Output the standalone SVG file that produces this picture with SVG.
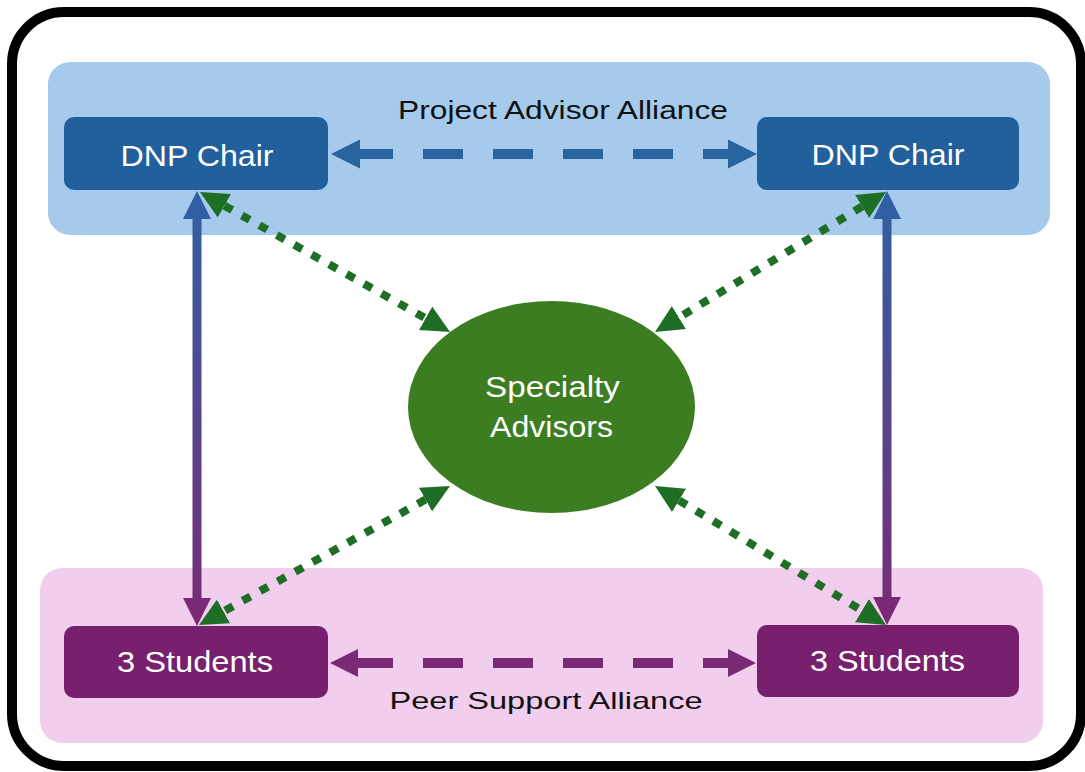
<svg xmlns="http://www.w3.org/2000/svg" width="1085" height="772" viewBox="0 0 1085 772">
  <style>
    .lbl { font-family: "Liberation Sans", Arial, sans-serif; fill: #ffffff; text-anchor: middle; }
    .band { font-family: "Liberation Sans", Arial, sans-serif; fill: #111111; text-anchor: middle; }
    .chair { fill: #21609C; }
    .stud { fill: #78206E; }
    .dot { fill: none; stroke: #1E6E25; stroke-width: 8; stroke-dasharray: 9 11; }
  </style>
  <defs>
    <marker id="hBlue" markerUnits="userSpaceOnUse" markerWidth="30" markerHeight="30" viewBox="0 0 30 30" refX="0" refY="15" orient="auto-start-reverse">
      <path d="M0,0.5 L29,15 L0,29.5 z" fill="#2A64A0"/>
    </marker>
    <marker id="hPurple" markerUnits="userSpaceOnUse" markerWidth="30" markerHeight="30" viewBox="0 0 30 30" refX="0" refY="15" orient="auto-start-reverse">
      <path d="M0,1 L28,15 L0,29 z" fill="#7A2A75"/>
    </marker>
    <marker id="vBlue" markerUnits="userSpaceOnUse" markerWidth="30" markerHeight="30" viewBox="0 0 30 30" refX="0" refY="15" orient="auto-start-reverse">
      <path d="M0,1 L28,15 L0,29 z" fill="#3060A3"/>
    </marker>
    <marker id="gArrow" markerUnits="userSpaceOnUse" markerWidth="30" markerHeight="30" viewBox="0 0 30 30" refX="0" refY="15" orient="auto-start-reverse">
      <path d="M0,1.5 L28,15 L0,28.5 z" fill="#1E6E25"/>
    </marker>
    <linearGradient id="vgrad" gradientUnits="userSpaceOnUse" x1="0" y1="191" x2="0" y2="626">
      <stop offset="0" stop-color="#2F62A3"/>
      <stop offset="1" stop-color="#7A2A75"/>
    </linearGradient>
  </defs>

  <rect x="12" y="12" width="1069" height="754" rx="52" fill="#ffffff" stroke="#000000" stroke-width="10"/>

  <g id="project-advisor-alliance">
    <rect x="48" y="62" width="1002" height="173" rx="22" fill="#A6CAEB"/>
    <text class="band" x="563" y="119" font-size="25" textLength="330" lengthAdjust="spacingAndGlyphs">Project Advisor Alliance</text>
  </g>
  <g id="peer-support-alliance">
    <rect x="40" y="568" width="1003" height="175" rx="22" fill="#F1CDEE"/>
    <text class="band" x="546" y="709" font-size="24" textLength="313" lengthAdjust="spacingAndGlyphs">Peer Support Alliance</text>
  </g>

  <g id="connectors">
    <line x1="360" y1="154" x2="728" y2="154" stroke="#2A64A0" stroke-width="10" stroke-dasharray="40 30" stroke-dashoffset="7" marker-start="url(#hBlue)" marker-end="url(#hBlue)"/>
    <line x1="358" y1="663" x2="728" y2="663" stroke="#7A2A75" stroke-width="10" stroke-dasharray="40 30" stroke-dashoffset="5" marker-start="url(#hPurple)" marker-end="url(#hPurple)"/>
    <line x1="197" y1="219" x2="197" y2="598" stroke="url(#vgrad)" stroke-width="9" marker-start="url(#vBlue)" marker-end="url(#hPurple)"/>
    <line x1="887" y1="219" x2="887" y2="597" stroke="url(#vgrad)" stroke-width="9" marker-start="url(#vBlue)" marker-end="url(#hPurple)"/>
    <line class="dot" x1="224.4" y1="205.7" x2="425.6" y2="318.3" marker-start="url(#gArrow)" marker-end="url(#gArrow)"/>
    <line class="dot" x1="862.1" y1="206.5" x2="678.9" y2="317.5" marker-start="url(#gArrow)" marker-end="url(#gArrow)"/>
    <line class="dot" x1="425.5" y1="499.6" x2="223.5" y2="611.4" marker-start="url(#gArrow)" marker-end="url(#gArrow)"/>
    <line class="dot" x1="679" y1="500.4" x2="862" y2="610.6" marker-start="url(#gArrow)" marker-end="url(#gArrow)"/>
  </g>

  <g id="dnp-chair-left">
    <rect class="chair" x="64" y="117" width="264" height="73" rx="10"/>
    <text class="lbl" x="197" y="165.5" font-size="30" textLength="153" lengthAdjust="spacingAndGlyphs">DNP Chair</text>
  </g>
  <g id="dnp-chair-right">
    <rect class="chair" x="757" y="117" width="262" height="73" rx="10"/>
    <text class="lbl" x="888" y="164.5" font-size="30" textLength="153" lengthAdjust="spacingAndGlyphs">DNP Chair</text>
  </g>
  <g id="students-left">
    <rect class="stud" x="64" y="626" width="264" height="72" rx="10"/>
    <text class="lbl" x="195" y="671.5" font-size="30" textLength="156" lengthAdjust="spacingAndGlyphs">3 Students</text>
  </g>
  <g id="students-right">
    <rect class="stud" x="757" y="625" width="262" height="72" rx="10"/>
    <text class="lbl" x="887.5" y="670.5" font-size="30" textLength="155" lengthAdjust="spacingAndGlyphs">3 Students</text>
  </g>
  <g id="specialty-advisors">
    <ellipse cx="551.5" cy="407" rx="143.5" ry="106" fill="#3C7D22"/>
    <text class="lbl" x="552.5" y="397" font-size="30" textLength="135" lengthAdjust="spacingAndGlyphs">Specialty</text>
    <text class="lbl" x="551.5" y="437" font-size="30" textLength="123" lengthAdjust="spacingAndGlyphs">Advisors</text>
  </g>
</svg>
